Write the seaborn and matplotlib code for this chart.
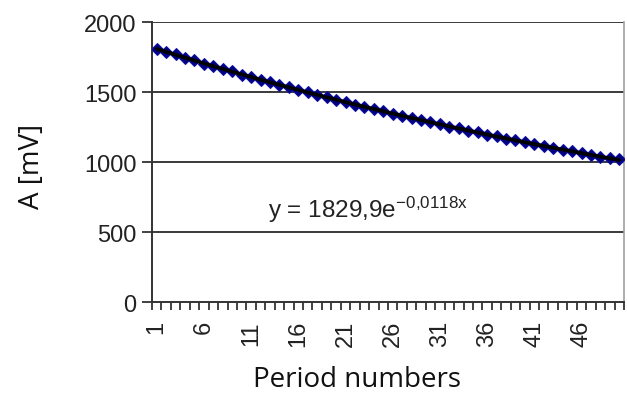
import numpy as np
import pandas as pd
import seaborn as sns
from matplotlib import pyplot as plt
from matplotlib import transforms

# amplitude per period
periods = list(range(1, 51))
amplitude = [1809, 1786, 1768, 1744, 1726, 1703, 1686, 1664, 1647, 1625,
             1608, 1587, 1571, 1550, 1534, 1514, 1498, 1478, 1463, 1444,
             1430, 1410, 1396, 1377, 1364, 1345, 1332, 1314, 1300, 1283,
             1270, 1253, 1240, 1224, 1211, 1195, 1183, 1167, 1155, 1140,
             1128, 1114, 1102, 1088, 1076, 1062, 1051, 1038, 1027, 1018]
# exponential trendline shown in the chart label
fit_a = 1829.9
fit_k = 0.0118
xtick_labels = [str(p) for p in range(1, 50, 5)]
ytick_values = [0, 500, 1000, 1500, 2000]


def main():
    sns.set_style("white")
    plt.rcParams['font.family'] = ['Liberation Sans', 'DejaVu Sans']
    plt.rcParams['mathtext.default'] = 'regular'

    df = pd.DataFrame({"period": periods, "A": amplitude})
    fig = plt.figure(figsize=(6.27, 4.14), dpi=100)
    ax = fig.add_axes([0.2424, 0.2681, 0.7528, 0.6763])

    for v in ytick_values[1:]:
        ax.axhline(v, color='#3a3a3a', lw=1.4, zorder=1)

    sns.lineplot(data=df, x="period", y="A", ax=ax, color='#000080',
                 marker='D', markersize=6, markeredgecolor='#1010a0',
                 lw=1.0, zorder=3)
    xs = np.array(periods, dtype=float)
    ax.plot(xs, fit_a * np.exp(-fit_k * xs), color='black', lw=2.6, zorder=4)

    ax.set_xlim(0.5, 50.5)
    ax.set_ylim(0, 2000)
    ax.set_yticks(ytick_values)
    ax.set_yticklabels([str(v) for v in ytick_values], fontsize=17)
    ax.set_xticks(range(1, 50, 5))
    ax.set_xticklabels(xtick_labels, rotation=90, fontsize=17)
    ax.set_xticks(np.arange(0.5, 51, 1), minor=True)
    ax.tick_params(axis='both', which='both', bottom=True, left=True)
    ax.tick_params(axis='x', which='major', length=0, pad=13, colors='#222222')
    ax.tick_params(axis='x', which='minor', length=6, width=1.3,
                   direction='out', color='#333333')
    ax.tick_params(axis='y', which='major', length=7, width=1.3,
                   direction='out', color='#333333', labelcolor='#222222',
                   pad=4)

    for s in ['left', 'bottom']:
        ax.spines[s].set_color('#333333')
        ax.spines[s].set_linewidth(1.4)
    ax.spines['right'].set_color('#a0a0a0')
    ax.spines['right'].set_linewidth(1.2)
    ax.spines['top'].set_visible(False)

    ax.set_xlabel("")
    ax.set_ylabel("")
    trans = transforms.blended_transform_factory(ax.transAxes, ax.transData)
    ax.text(0.245, 605, r'y = 1829,9e$^{-0{,}0118x}$', fontsize=17.5,
            transform=trans, ha='left', va='baseline', color='#222222')

    fig.text(0.569, 0.082, "Period numbers", family='Open Sans', fontsize=20,
             ha='center', va='center', color='#111111')
    fig.text(0.051, 0.597, "A [mV]", family='Open Sans', fontsize=20,
             rotation=90, ha='center', va='center', color='#111111')

    plt.savefig("out.png", dpi=100)


if __name__ == '__main__':
    main()
